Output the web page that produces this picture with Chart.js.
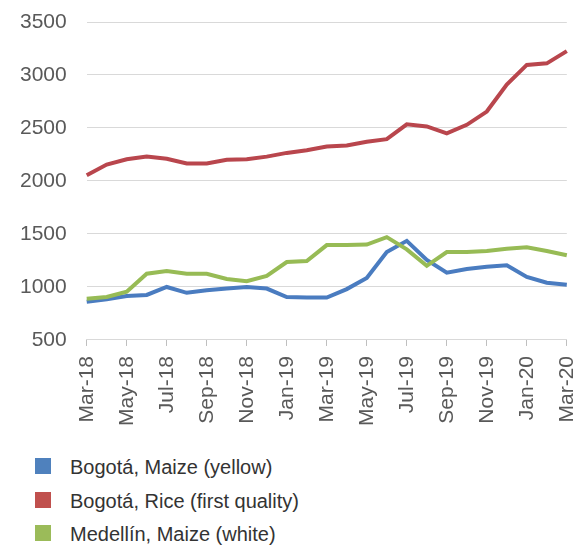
<!DOCTYPE html>
<html>
<head>
<meta charset="utf-8">
<script src="https://cdn.jsdelivr.net/npm/chart.js@4/dist/chart.umd.min.js"></script>
<style>
  body { margin: 0; background: #fff; font-family: 'Liberation Sans', Arial, sans-serif; }
  #clip { width: 585px; height: 445px; overflow: hidden; }
  #wrap { position: relative; width: 602px; height: 442px; }
  #legend { position: absolute; left: 35px; top: 456px; margin: 0; padding: 0; list-style: none; }
  #legend li { height: 33.5px; display: flex; align-items: flex-start; font-size: 20px; color: #333; }
  #legend span.box { width: 16px; height: 16px; margin-top: 2px; margin-right: 19px; display: inline-block; }
</style>
</head>
<body>
<div id="clip"><div id="wrap"><canvas id="chart"></canvas></div></div>
<ul id="legend"></ul>
<script>
  const months = [
    'Mar-18', 'Apr-18', 'May-18', 'Jun-18', 'Jul-18', 'Aug-18', 'Sep-18', 'Oct-18', 'Nov-18', 'Dec-18',
    'Jan-19', 'Feb-19', 'Mar-19', 'Apr-19', 'May-19', 'Jun-19', 'Jul-19', 'Aug-19', 'Sep-19', 'Oct-19',
    'Nov-19', 'Dec-19', 'Jan-20', 'Feb-20', 'Mar-20'
  ]

  const bogotaMaizeYellow = [
    860, 885, 915, 925, 1000, 945, 970, 985, 1000, 985,
    905, 900, 900, 980, 1085, 1330, 1435, 1255, 1135, 1170,
    1190, 1205, 1095, 1040, 1020
  ]

  const bogotaRice = [
    2055, 2155, 2205, 2230, 2210, 2165, 2165, 2200, 2205, 2230,
    2265, 2290, 2325, 2335, 2370, 2395, 2535, 2515, 2450, 2530,
    2655, 2910, 3095, 3110, 3225
  ]

  const medellinMaizeWhite = [
    890, 905, 955, 1125, 1150, 1125, 1125, 1075, 1055, 1105,
    1235, 1245, 1395, 1395, 1400, 1470, 1355, 1200, 1330, 1330,
    1340, 1360, 1375, 1340, 1300
  ]

  const yTicks = [500, 1000, 1500, 2000, 2500, 3000, 3500]

  const series = [
    { label: 'Bogotá, Maize (yellow)', data: bogotaMaizeYellow, color: '#4A7CC0', box: '#4F81BD' },
    { label: 'Bogotá, Rice (first quality)', data: bogotaRice, color: '#B9464D', box: '#C0504D' },
    { label: 'Medellín, Maize (white)', data: medellinMaizeWhite, color: '#97BB55', box: '#9BBB59' }
  ]

  const tickFont = { family: 'Liberation Sans', size: 21 }

  const chart = new Chart(document.getElementById('chart'), {
    type: 'line',
    data: {
      labels: months,
      datasets: series.map((s, i) => ({
        label: s.label,
        data: s.data,
        borderColor: s.color,
        backgroundColor: s.box,
        borderWidth: 4,
        pointRadius: 0,
        tension: 0,
        order: series.length - i
      }))
    },
    options: {
      responsive: true,
      maintainAspectRatio: false,
      animation: false,
      layout: {
        padding: { left: 12, right: 0, top: 22, bottom: 6 }
      },
      scales: {
        x: {
          grid: {
            drawOnChartArea: false,
            tickLength: 6,
            tickColor: (ctx) => (ctx.index % 2 === 0 ? '#BFBFBF' : 'rgba(0,0,0,0)')
          },
          border: { color: '#D9D9D9' },
          ticks: {
            font: tickFont,
            color: '#595959',
            autoSkip: false,
            maxRotation: 90,
            minRotation: 90,
            padding: 10,
            callback: function (value, index) {
              return index % 2 === 0 ? this.getLabelForValue(value) : ''
            }
          }
        },
        y: {
          min: yTicks[0],
          max: yTicks[yTicks.length - 1],
          afterBuildTicks: (axis) => {
            axis.ticks = yTicks.map((v) => ({ value: v }))
          },
          grid: {
            color: '#D9D9D9',
            tickLength: 12,
            tickColor: 'rgba(0,0,0,0)'
          },
          border: { display: false },
          ticks: {
            font: tickFont,
            color: '#595959',
            padding: 8,
            callback: (value) => String(value)
          }
        }
      },
      plugins: {
        legend: { display: false },
        tooltip: { enabled: false }
      }
    }
  })

  // legend as a vertical list, like the original
  const legend = document.getElementById('legend')
  series.forEach((s) => {
    const li = document.createElement('li')
    const box = document.createElement('span')
    box.className = 'box'
    box.style.background = s.box
    li.appendChild(box)
    li.appendChild(document.createTextNode(s.label))
    legend.appendChild(li)
  })
</script>
</body>
</html>
